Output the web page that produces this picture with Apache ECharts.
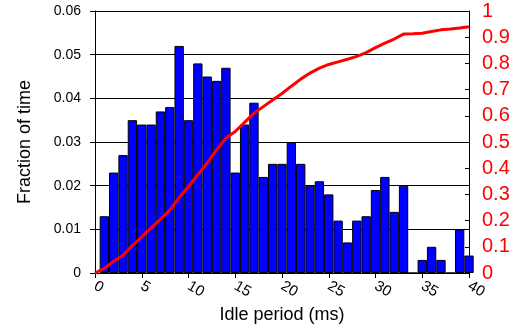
<!DOCTYPE html>
<html><head><meta charset="utf-8">
<script src="https://cdn.jsdelivr.net/npm/echarts@6/dist/echarts.min.js"></script>
<style>html,body{margin:0;padding:0;background:#fff}#c{width:518px;height:330px}</style>
</head><body><div id="c"></div>
<script>
// Histogram bins (ms) and fraction of time in each bin
const bins = [1,2,3,4,5,6,7,8,9,10,11,12,13,14,15,16,17,18,19,20,21,22,23,24,25,26,27,28,29,30,31,32,33,34,35,36,37,38,39,40];
const fraction = [0.013,0.023,0.027,0.035,0.034,0.034,0.037,0.038,0.052,0.035,0.048,0.045,0.044,0.047,0.023,0.034,0.039,0.022,0.025,0.025,0.030,0.025,0.020,0.021,0.018,0.012,0.007,0.012,0.013,0.019,0.022,0.014,0.020,0,0.003,0.006,0.003,0,0.010,0.004];
// Cumulative curve (right axis)
const cdfX = [0,1,2,3,4,5,6,7,8,9,10,11,12,13,14,15,16,17,18,19,20,21,22,23,24,25,26,27,28,29,30,31,32,33,34,35,36,37,38,39,40];
const cdfY = [0,0.018,0.045,0.068,0.105,0.138,0.172,0.205,0.24,0.288,0.33,0.375,0.42,0.47,0.515,0.54,0.575,0.61,0.635,0.66,0.685,0.713,0.74,0.763,0.782,0.796,0.806,0.816,0.827,0.841,0.86,0.877,0.893,0.912,0.913,0.915,0.922,0.928,0.931,0.935,0.94];
const xTitle = 'Idle period (ms)';
const yTitle = 'Fraction of time';

const font = 'Liberation Sans, Arial, Helvetica, sans-serif';
const chart = echarts.init(document.getElementById('c'), null, {renderer:'canvas'});
chart.setOption({
  animation:false,
  grid:{left:95,right:49,top:11,bottom:57,show:false},
  xAxis:{
    type:'value',min:0,max:40,interval:5,
    name:xTitle,nameLocation:'middle',nameGap:30,
    nameTextStyle:{fontFamily:font,fontSize:18,color:'#000'},
    axisLine:{show:true,onZero:false,lineStyle:{color:'#000',width:1}},
    axisTick:{show:true,length:5,lineStyle:{color:'#000'}},
    axisLabel:{rotate:-30,fontFamily:font,fontSize:15,color:'#000',margin:12,showMinLabel:true,showMaxLabel:true},
    splitLine:{show:false}
  },
  yAxis:[{
    type:'value',min:0,max:0.06,interval:0.01,position:'left',
    name:yTitle,nameLocation:'middle',nameGap:61,
    nameTextStyle:{fontFamily:font,fontSize:18,color:'#000'},
    axisLine:{show:true,lineStyle:{color:'#000',width:1}},
    axisTick:{show:true,length:5,lineStyle:{color:'#000'}},
    axisLabel:{fontFamily:font,fontSize:14,color:'#000',margin:14},
    splitLine:{show:true,lineStyle:{color:'#000',width:1}}
  },{
    type:'value',min:0,max:1,interval:0.1,position:'right',
    axisLine:{show:true,lineStyle:{color:'#000',width:1}},
    axisTick:{show:true,inside:true,length:4,lineStyle:{color:'#000'}},
    axisLabel:{fontFamily:font,fontSize:20,color:'#ff0000',margin:13},
    splitLine:{show:false}
  }],
  series:[{
    type:'bar',xAxisIndex:0,yAxisIndex:0,
    data:bins.map((b,i)=>[b,fraction[i]]),
    barWidth:'100%',
    itemStyle:{color:'#0000ff',borderColor:'#000',borderWidth:1},
    clip:true
  },{
    type:'line',xAxisIndex:0,yAxisIndex:1,
    data:cdfX.map((x,i)=>[x,cdfY[i]]),
    showSymbol:false,symbol:'none',
    lineStyle:{color:'#ff0000',width:3},
    z:5
  }]
});
</script></body></html>
